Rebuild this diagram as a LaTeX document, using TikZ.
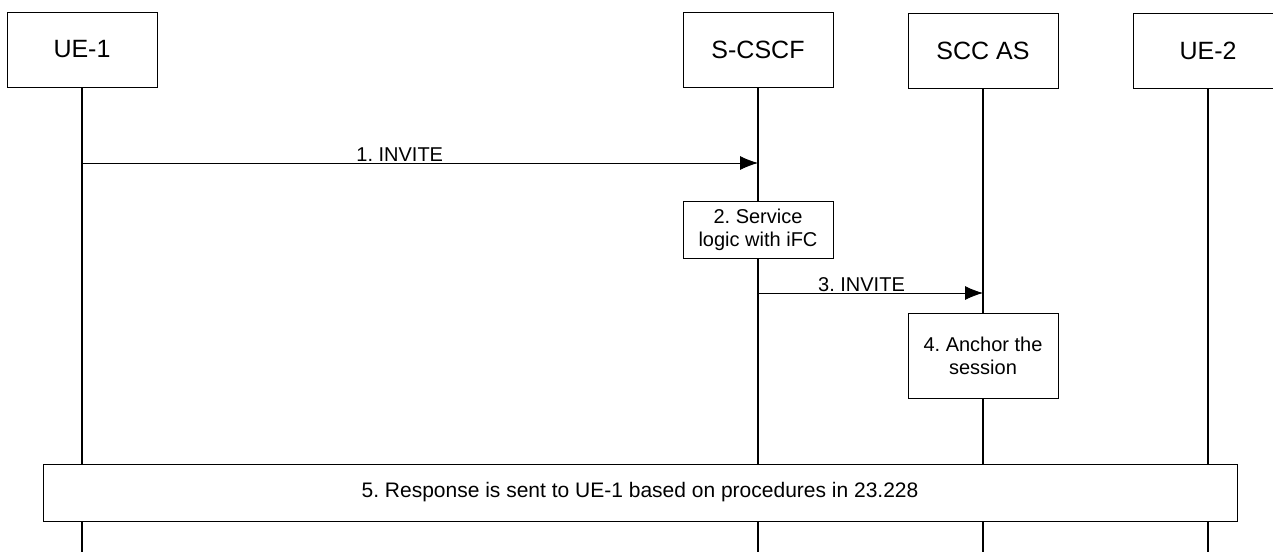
\documentclass[tikz,border=0pt]{standalone}
\usepackage{fontspec}
\setmainfont{Liberation Sans}
\usetikzlibrary{arrows.meta}
\frenchspacing
\begin{document}
\begin{tikzpicture}[x=1pt,y=-1pt,
    entity/.style={draw,fill=white,minimum width=150pt,minimum height=75pt,font=\fontsize{25}{28}\selectfont},
    action/.style={draw,fill=white,align=center,inner sep=2pt,font=\fontsize{20}{23}\selectfont},
    lifeline/.style={line width=1.2pt},
    msg/.style={-{Latex[length=18pt,width=14pt]},line width=0.8pt},
    lbl/.style={above,inner sep=1pt,font=\fontsize{20}{23}\selectfont}]
  \useasboundingbox (0,0) rectangle (1273,552);
  \clip (0,0) rectangle (1273,552);

  % entities
  \node[entity] (ue1) at (82,49.5) {UE-1};
  \node[entity] (scscf) at (758,49.5) {S-CSCF};
  \node[entity] (sccas) at (983,50.5) {SCC AS};
  \node[entity] (ue2) at (1208,50.5) {UE-2};

  \coordinate (ue1 end) at (82,552);
  \coordinate (scscf end) at (758,552);
  \coordinate (sccas end) at (983,552);
  \coordinate (ue2 end) at (1208,552);

  \draw[lifeline] (ue1.south) -- (ue1 end);
  \draw[lifeline] (scscf.south) -- (scscf end);
  \draw[lifeline] (sccas.south) -- (sccas end);
  \draw[lifeline] (ue2.south) -- (ue2 end);

  % messages
  \coordinate (inv1 from) at (82,163);
  \coordinate (inv1 to) at (758,163);
  \coordinate (inv3 from) at (758,293);
  \coordinate (inv3 to) at (983,293);

  \draw[msg] (inv1 from) to node[lbl,pos=0.47] {1. INVITE} (inv1 to);
  \draw[msg] (inv3 from) to node[lbl,pos=0.46] {3. INVITE} (inv3 to);

  % actions
  \node[action,minimum width=150pt,minimum height=57pt] (logic) at (758,229.5) {2. Service\\logic with iFC};
  \node[action,minimum width=150pt,minimum height=85pt] (anchor) at (983,355.5) {4. Anchor the\\session};
  \node[action,minimum width=1194pt,minimum height=57pt,font=\fontsize{21}{24}\selectfont] (response) at (640,492.5) {5. Response is sent to UE-1 based on procedures in 23.228};
\end{tikzpicture}
\end{document}
